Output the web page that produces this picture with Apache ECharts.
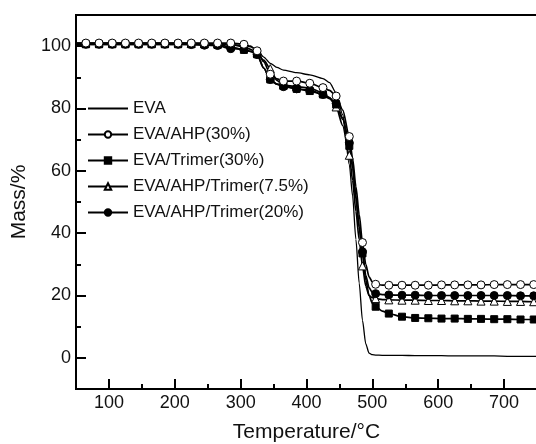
<!DOCTYPE html>
<html>
<head>
<meta charset="utf-8">
<script src="https://cdn.jsdelivr.net/npm/echarts@6/dist/echarts.min.js"></script>
<style>
  html, body { margin: 0; padding: 0; background: #fff; }
  #chart { width: 536px; height: 444px; }
</style>
</head>
<body>
<div id="chart"></div>
<script>
// temperature grid (°C); markers are drawn at 65 + 20k
const temps = [50, 65, 85, 105, 125, 145, 165, 185, 205, 225, 245, 265, 285, 305, 315, 325, 335, 345, 355, 365,
  385, 405, 425, 435, 445, 455, 465, 470, 475, 480, 485, 490, 495, 500, 505, 515, 525, 545, 565, 585,
  605, 625, 645, 665, 685, 705, 725, 745, 765];

const evaMass = [100.7, 100.7, 100.7, 100.7, 100.7, 100.7, 100.7, 100.7, 100.7, 100.7, 100.7, 100.6, 100.5, 100.2, 99.8, 98.8, 96.5, 94.5, 93.2, 92.3,
  91.5, 90.8, 89.6, 88.3, 85, 78, 62, 52, 38, 24, 12, 4.5, 1.5, 1.0, 0.9, 0.8, 0.8, 0.8, 0.7, 0.7,
  0.7, 0.6, 0.6, 0.6, 0.6, 0.5, 0.5, 0.5, 0.5];

const ahp30Mass = [101, 101, 101, 101, 101, 101, 101, 101, 101, 101, 101, 101, 101, 100.6, 100, 98.5, 95, 91, 89.5, 88.8,
  88.8, 88.1, 86.7, 85.8, 84, 79.5, 71, 64, 55, 46, 37, 30, 26, 24.3, 23.6, 23.3, 23.3, 23.3, 23.3, 23.3,
  23.4, 23.4, 23.4, 23.4, 23.5, 23.5, 23.5, 23.5, 23.5];

const trimer30Mass = [100.6, 100.6, 100.6, 100.6, 100.6, 100.6, 100.6, 100.6, 100.6, 100.6, 100.6, 100.4, 99.8, 98.8, 98.3, 97.4, 93, 89.3, 87.8, 87.4,
  86.3, 85.6, 84.5, 83.2, 81.3, 76.5, 68, 61, 51, 42, 33.5, 25, 20, 17.5, 16.4, 15, 14.2, 13.2, 12.8, 12.7,
  12.6, 12.6, 12.5, 12.5, 12.4, 12.4, 12.3, 12.3, 12.2];

const mix75Mass = [101, 101, 101, 101, 101, 101, 101, 101, 101, 100.9, 100.8, 100.7, 100.5, 99.8, 99, 97.8, 95.5, 92.8, 89, 87.5,
  87, 86.5, 85, 83.5, 80.5, 74.5, 65, 57, 47, 38, 29.5, 23, 20, 19.3, 19, 18.7, 18.6, 18.5, 18.5, 18.4,
  18.4, 18.3, 18.3, 18.2, 18.2, 18.1, 18.1, 18, 18];

const mix20Mass = [100.6, 100.6, 100.6, 100.6, 100.6, 100.6, 100.6, 100.6, 100.6, 100.5, 100.3, 100.2, 99.2, 99, 98.3, 97.3, 93, 89.3, 87.8, 87,
  86.3, 85.9, 84.5, 83.3, 81.6, 77, 69, 62, 52, 42, 34, 26.5, 22.5, 21, 20.6, 20.3, 20.2, 20.1, 20.1, 20,
  20, 20, 20, 20, 20, 20, 19.9, 19.9, 19.9];

const seriesNames = ['EVA', 'EVA/AHP(30%)', 'EVA/Trimer(30%)', 'EVA/AHP/Trimer(7.5%)', 'EVA/AHP/Trimer(20%)'];

const xMajorTicks = [100, 200, 300, 400, 500, 600, 700];
const xMinorTicks = [150, 250, 350, 450, 550, 650];
const yMajorTicks = [0, 20, 40, 60, 80, 100];
const yMinorTicks = [10, 30, 50, 70, 90];

const font = 'Liberation Sans, Arial, sans-serif';

function build(values, withMarkers) {
  return temps.map((t, i) => {
    const marked = withMarkers && t >= 65 && (t - 65) % 20 === 0;
    return marked ? { value: [t, values[i]] } : { value: [t, values[i]], symbol: 'none' };
  });
}

function markerSeries(name, values, symbol, fill) {
  return {
    name: name,
    type: 'line',
    data: build(values, true),
    symbol: symbol,
    symbolSize: symbol === 'rect' ? 7 : 8,
    showAllSymbol: true,
    smooth: 0.25,
    smoothMonotone: 'x',
    lineStyle: { color: '#000', width: 1.7 },
    itemStyle: { color: fill, borderColor: '#000', borderWidth: 1 }
  };
}

const chart = echarts.init(document.getElementById('chart'), null, { renderer: 'canvas' });

chart.setOption({
  animation: false,
  backgroundColor: '#fff',
  grid: {
    left: 76, top: 15, width: 461, height: 374,
    containLabel: false, outerBoundsMode: 'none',
    show: true, borderColor: '#000', borderWidth: 2, backgroundColor: 'transparent'
  },
  legend: {
    orient: 'vertical',
    left: 87, top: 100, padding: 0,
    itemWidth: 40, itemHeight: 8, itemGap: 9,
    textStyle: { fontFamily: font, fontSize: 17, color: '#111' },
    data: [{ name: seriesNames[0], itemStyle: { opacity: 0 } }].concat(seriesNames.slice(1))
  },
  xAxis: [{
    type: 'value', min: 50, max: 750,
    name: 'Temperature/°C', nameLocation: 'middle', nameGap: 33,
    nameTextStyle: { fontFamily: font, fontSize: 21, color: '#111' },
    axisLine: { onZero: false, lineStyle: { color: '#000', width: 2 } },
    axisTick: { inside: true, length: 10, lineStyle: { width: 2, color: '#000' }, customValues: xMajorTicks },
    axisLabel: { customValues: xMajorTicks, margin: 5, fontFamily: font, fontSize: 18, color: '#111' },
    splitLine: { show: false }
  }, {
    type: 'value', min: 50, max: 750, position: 'bottom',
    axisLine: { show: false, onZero: false },
    axisTick: { inside: true, length: 5, lineStyle: { width: 2, color: '#000' }, customValues: xMinorTicks },
    axisLabel: { show: false },
    splitLine: { show: false }
  }],
  yAxis: [{
    type: 'value', min: -10, max: 110,
    name: 'Mass/%', nameLocation: 'middle', nameGap: 44,
    nameTextStyle: { fontFamily: font, fontSize: 21, color: '#111' },
    axisLine: { onZero: false, lineStyle: { color: '#000', width: 2 } },
    axisTick: { inside: true, length: 10, lineStyle: { width: 2, color: '#000' }, customValues: yMajorTicks },
    axisLabel: { customValues: yMajorTicks, margin: 5, fontFamily: font, fontSize: 18, color: '#111' },
    splitLine: { show: false }
  }, {
    type: 'value', min: -10, max: 110, position: 'left',
    axisLine: { show: false, onZero: false },
    axisTick: { inside: true, length: 5, lineStyle: { width: 2, color: '#000' }, customValues: yMinorTicks },
    axisLabel: { show: false },
    splitLine: { show: false }
  }],
  series: [
    {
      name: seriesNames[0],
      type: 'line',
      data: build(evaMass, false),
      symbol: 'none',
      smooth: 0.25,
      smoothMonotone: 'x',
      lineStyle: { color: '#000', width: 1.3 },
      itemStyle: { color: '#000' }
    },
    markerSeries(seriesNames[3], mix75Mass, 'triangle', '#fff'),
    markerSeries(seriesNames[2], trimer30Mass, 'rect', '#000'),
    markerSeries(seriesNames[4], mix20Mass, 'circle', '#000'),
    markerSeries(seriesNames[1], ahp30Mass, 'circle', '#fff')
  ]
});
</script>
</body>
</html>
